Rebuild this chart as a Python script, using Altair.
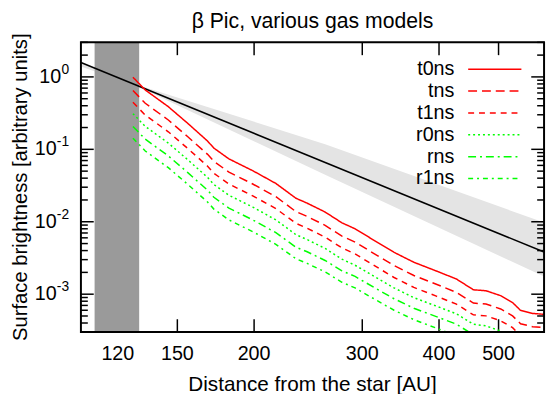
import altair as alt
import pandas as pd

TITLE = "β Pic, various gas models"
X_TITLE = "Distance from the star [AU]"
Y_TITLE = "Surface brightness [arbitrary units]"

models = ["t0ns", "tns", "t1ns", "r0ns", "rns", "r1ns"]
colors = ["#ff0000", "#ff0000", "#ff0000", "#00ff00", "#00ff00", "#00ff00"]
dashes = [[1, 0], [9, 5], [6, 5], [2, 3], [8, 4, 2, 4], [5, 4, 2, 4]]

r = [127, 133, 145, 156, 168, 172, 182, 199, 217, 234, 244, 261, 278, 292, 314,
     338, 364, 396, 427, 455, 477, 504, 527, 543, 568, 593]
t0ns = [0.99, 0.66, 0.388, 0.228, 0.130, 0.104, 0.0738, 0.0507, 0.0338, 0.0211, 0.01806,
        0.01363, 0.00966, 0.0080, 0.0055, 0.00378, 0.00276, 0.00209, 0.00162, 0.00115,
        0.001116, 0.000954, 0.000766, 0.000597, 0.000543, 0.000527]
tns = [0.649, 0.433, 0.254, 0.149, 0.0852, 0.0682, 0.0484, 0.0332, 0.0222, 0.0138, 0.01184,
       0.00893, 0.00633, 0.00524, 0.00361, 0.00248, 0.00181, 0.00137, 0.00106, 0.000754,
       0.000732, 0.000625, 0.000502, 0.000391, 0.000356, 0.000345]
t1ns = [0.4455, 0.297, 0.1746, 0.1026, 0.0585, 0.0468, 0.0332, 0.0228, 0.01521, 0.0095,
        0.00813, 0.00613, 0.00435, 0.0036, 0.00248, 0.0017, 0.00124, 0.00094, 0.000729,
        0.000518, 0.000502, 0.000429, 0.000345, 0.000269, 0.000244, 0.000237]
r0ns = [0.311, 0.2074, 0.122, 0.0717, 0.0409, 0.0327, 0.0232, 0.01594, 0.01062, 0.00663,
        0.00568, 0.00428, 0.00304, 0.00251, 0.00175, 0.00122, 0.000895, 0.000685, 0.000535,
        0.000385, 0.000365, 0.00031, 0.00025, 0.000195, 0.000175, 0.000168]
rns = [0.2072, 0.1381, 0.0812, 0.0477, 0.0272, 0.0218, 0.01545, 0.01061, 0.00707, 0.00445,
       0.00385, 0.00292, 0.0021, 0.00176, 0.00123, 0.000865, 0.00064, 0.00049, 0.000385,
       0.000275, 0.000262, 0.000222, 0.000178, 0.000139, 0.000126, 0.000121]
r1ns = [0.1424, 0.0949, 0.0558, 0.0328, 0.0187, 0.01496, 0.01061, 0.00729, 0.00488, 0.00308,
        0.00266, 0.00203, 0.00146, 0.00122, 0.000855, 0.0006, 0.000445, 0.00034, 0.000265,
        0.000188, 0.000181, 0.000154, 0.000123, 9.6e-5, 8.7e-5, 8.4e-5]
series = [t0ns, tns, t1ns, r0ns, rns, r1ns]

# observed profile (power law) and its uncertainty band
ref_r = [104.5, 593]
ref_I = [1.58, 0.00382]
band_r = [104.5, 130, 261, 593]
band_lo = [1.39, 0.72, 0.0445, 0.00175]
band_hi = [1.60, 0.76, 0.118, 0.00975]

# masked region
mask_lo = [110]
mask_hi = [130]

x_ticks = [120, 150, 200, 300, 400, 500]
y_major = [1, 0.1, 0.01, 0.001]
y_exp = ["0", "-1", "-2", "-3"]
y_minor = [m * 10.0 ** e for e in range(-4, 1) for m in range(2, 10)
           if 3e-4 <= m * 10.0 ** e <= 3]

W, H = 470, 294
FONT = "Liberation Sans"
FS = 20

xs = alt.Scale(type="log", domain=[104.5, 593], nice=False)
ys = alt.Scale(type="log", domain=[3e-4, 3], nice=False)

curves = pd.DataFrame([
    {"r": rv, "I": iv, "model": m}
    for m, s in zip(models, series) for rv, iv in zip(r, s)
])
ref = pd.DataFrame({"r": ref_r, "I": ref_I})
band = pd.DataFrame({"r": band_r, "lo": band_lo, "hi": band_hi})
mask = pd.DataFrame({"a": mask_lo, "b": mask_hi})
xt = pd.DataFrame({"v": x_ticks, "lab": [str(v) for v in x_ticks]})
ymaj = pd.DataFrame({"v": y_major, "e": y_exp})
ymin = pd.DataFrame({"v": y_minor})
one = alt.Data(values=[{}])

X = lambda f: alt.X(f, type="quantitative", scale=xs, axis=None)
Y = lambda f: alt.Y(f, type="quantitative", scale=ys, axis=None)

layers = []
layers.append(alt.Chart(band).mark_area(color="#e4e4e4", clip=True).encode(
    x=X("r"), y=Y("lo"), y2="hi"))

tick_style = dict(color="black", strokeWidth=1.5)
for y0, y1 in [(H, H - 13), (0, 13)]:
    layers.append(alt.Chart(xt).mark_rule(**tick_style).encode(
        x=X("v"), y=alt.value(y0), y2=alt.value(y1)))
for x0, x1 in [(0, 13), (W, W - 13)]:
    layers.append(alt.Chart(ymaj).mark_rule(**tick_style).encode(
        y=Y("v"), x=alt.value(x0), x2=alt.value(x1)))
for x0, x1 in [(0, 7), (W, W - 7)]:
    layers.append(alt.Chart(ymin).mark_rule(**tick_style).encode(
        y=Y("v"), x=alt.value(x0), x2=alt.value(x1)))

layers.append(alt.Chart(mask).mark_rect(color="#9a9a9a").encode(
    x=X("a"), x2="b", y=alt.value(0), y2=alt.value(H)))

layers.append(alt.Chart(ref).mark_line(color="black", strokeWidth=1.5, clip=True).encode(
    x=X("r"), y=Y("I")))

layers.append(alt.Chart(curves).mark_line(strokeWidth=1.5, clip=True).encode(
    x=X("r"), y=Y("I"),
    color=alt.Color("model:N", scale=alt.Scale(domain=models, range=colors), legend=None),
    strokeDash=alt.StrokeDash("model:N", scale=alt.Scale(domain=models, range=dashes), legend=None),
    detail="model:N"))

layers.append(alt.Chart(one).mark_rect(filled=False, stroke="black", strokeWidth=2).encode(
    x=alt.value(0), x2=alt.value(W), y=alt.value(0), y2=alt.value(H)))

# tick labels
layers.append(alt.Chart(xt).mark_text(font=FONT, fontSize=FS, baseline="alphabetic").encode(
    x=X("v"), y=alt.value(H + 28), text="lab:N"))
layers.append(alt.Chart(ymaj).transform_filter("datum.v >= 1").mark_text(
    font=FONT, fontSize=FS, align="right", baseline="middle", text="10").encode(
    y=Y("v"), x=alt.value(-20)))
layers.append(alt.Chart(ymaj).transform_filter("datum.v < 1").mark_text(
    font=FONT, fontSize=FS, align="right", baseline="middle", text="10").encode(
    y=Y("v"), x=alt.value(-24.5)))
layers.append(alt.Chart(ymaj).mark_text(
    font=FONT, fontSize=14, align="right", baseline="middle", dy=-7).encode(
    y=Y("v"), x=alt.value(-12), text="e:N"))

# titles
layers.append(alt.Chart(one).mark_text(font=FONT, fontSize=21.5, baseline="alphabetic",
                                       text=TITLE).encode(x=alt.value(W / 2), y=alt.value(-15)))
layers.append(alt.Chart(one).mark_text(font=FONT, fontSize=21, baseline="alphabetic",
                                       text=X_TITLE).encode(x=alt.value(W / 2), y=alt.value(H + 60)))
layers.append(alt.Chart(one).mark_text(font=FONT, fontSize=20.5, baseline="alphabetic", angle=270,
                                       text=Y_TITLE).encode(x=alt.value(-54.5), y=alt.value(H / 2)))

# key
for i, (m, c, d) in enumerate(zip(models, colors, dashes)):
    yy = 27.2 + 22.2 * i
    layers.append(alt.Chart(one).mark_text(font=FONT, fontSize=FS, align="right",
                                           baseline="middle", text=m).encode(
        x=alt.value(379), y=alt.value(yy)))
    layers.append(alt.Chart(one).mark_rule(color=c, strokeWidth=1.5, strokeDash=d).encode(
        x=alt.value(393), x2=alt.value(447), y=alt.value(yy)))

chart = alt.layer(*layers).properties(
    width=W, height=H,
    autosize=alt.AutoSizeParams(type="none"),
    padding={"left": 74, "top": 32, "right": 4, "bottom": 60},
).configure_view(stroke=None)

chart.save("out.html", embed_options={"renderer": "svg", "actions": False})
